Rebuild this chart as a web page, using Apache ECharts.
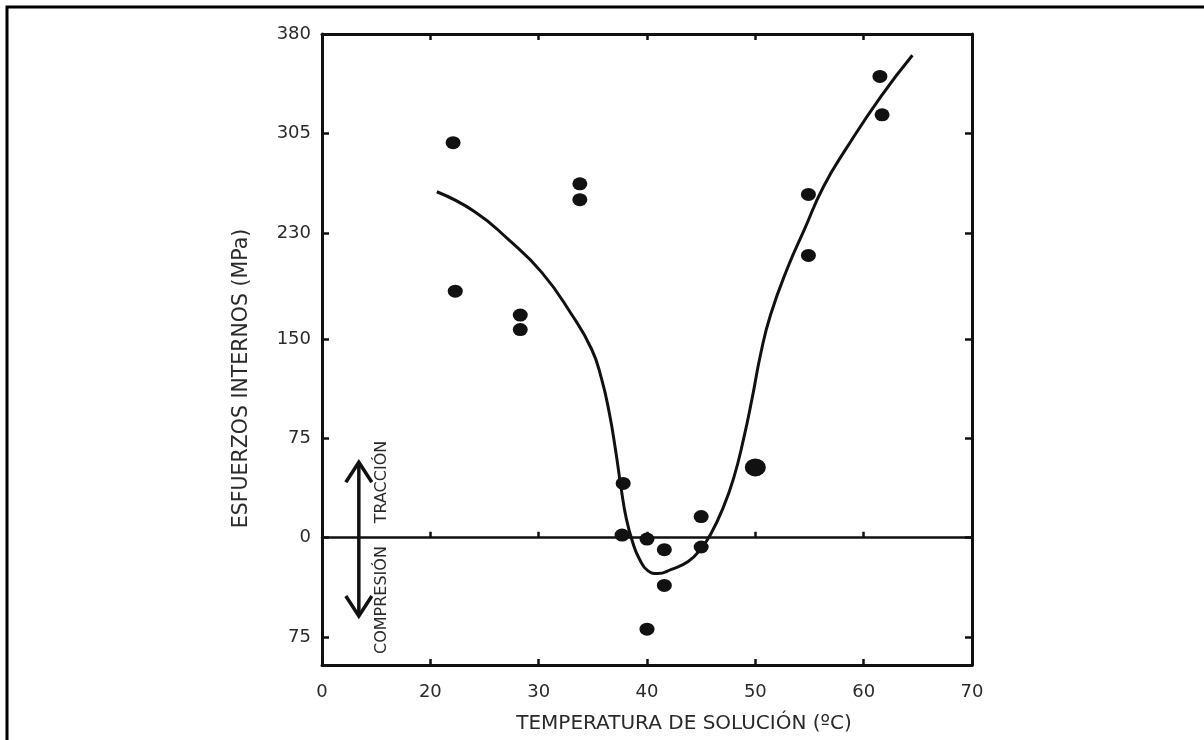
<!DOCTYPE html>
<html>
<head>
<meta charset="utf-8">
<script src="https://cdn.jsdelivr.net/npm/echarts@6/dist/echarts.min.js"></script>
<style>
  html, body { margin: 0; padding: 0; background: #fff; }
  #chart { width: 1204px; height: 740px; }
</style>
</head>
<body>
<div id="chart"></div>
<script>
// tick positions / labels (the axis starts at 10 but shows "0")
const xTicks = [10, 20, 30, 40, 50, 60, 70];
const xTickLabels = ['0', '20', '30', '40', '50', '60', '70'];
const yTicks = [-75, 0, 75, 150, 230, 305, 380];

// measured points (temperature, stress)
const dots = [
  [22.1, 298], [22.3, 186], [28.3, 168], [28.3, 157],
  [33.8, 267], [33.8, 255], [37.8, 41], [37.7, 2],
  [40.0, -1], [41.6, -9], [45.0, 16], [45.0, -7],
  [41.6, -36], [40.0, -69], [54.9, 259], [54.9, 213],
  [61.5, 348], [61.7, 319]
];
const bigDots = [[50.0, 53]];

// fitted curve
const curve = [
  [20.6, 261], [24.1, 246], [27.2, 225], [30.3, 200], [33.0, 169],
  [34.9, 142], [35.8, 120], [36.5, 95], [37.1, 66], [37.6, 38],
  [38.1, 14], [38.7, -4], [39.3, -16], [40.1, -25], [41.0, -27],
  [42.2, -24], [43.8, -18], [45.0, -8], [45.9, 3], [47.0, 22],
  [48.0, 45], [48.9, 74], [49.7, 105], [50.5, 139], [51.4, 168],
  [53.0, 204], [54.5, 232], [56.3, 265], [58.5, 295], [61.6, 333], [64.5, 364]
];

// arrow and side notes
const arrowX = 13.4;
const arrowTop = 57;
const arrowBottom = -59;
const noteX = 15.5;
const noteUp = ['TRACCIÓN', 42];
const noteDown = ['COMPRESIÓN', -47];

const ink = '#111';
const textColor = '#2a2a2a';
const font = 'DejaVu Sans, sans-serif';

let myChart = echarts.init(document.getElementById('chart'));

const boxAxis = {
  type: 'value',
  min: 10,
  max: 70,
  axisLine: { show: true, onZero: false, lineStyle: { color: ink, width: 3 } },
  axisTick: { show: true, inside: true, length: 6, customValues: xTicks, lineStyle: { color: ink, width: 2.5 } },
  splitLine: { show: false },
};

myChart.setOption({
  animation: false,
  backgroundColor: '#fff',
  grid: { left: 322, right: 232, top: 34, bottom: 75 },
  xAxis: [
    Object.assign({}, boxAxis, {
      position: 'bottom',
      name: 'TEMPERATURA DE SOLUCIÓN (ºC)',
      nameLocation: 'middle',
      nameGap: 49,
      nameTextStyle: { fontFamily: font, fontSize: 20, color: textColor, padding: [0, 0, 0, 74] },
      axisLabel: {
        customValues: xTicks,
        margin: 18,
        fontFamily: font,
        fontSize: 18,
        color: textColor,
        formatter: (v) => xTickLabels[xTicks.indexOf(v)],
      },
    }),
    Object.assign({}, boxAxis, { position: 'top', axisLabel: { show: false } }),
    // zero line across the plot
    Object.assign({}, boxAxis, {
      position: 'bottom',
      axisLine: { show: true, onZero: true, lineStyle: { color: ink, width: 2.5 } },
      axisLabel: { show: false },
    }),
  ],
  yAxis: [
    {
      type: 'value',
      min: -96,
      max: 380,
      position: 'left',
      name: 'ESFUERZOS INTERNOS (MPa)',
      nameLocation: 'middle',
      nameGap: 70,
      nameTextStyle: { fontFamily: font, fontSize: 20.5, color: textColor, padding: [0, 58, 0, 0] },
      axisLine: { show: true, onZero: false, lineStyle: { color: ink, width: 3 } },
      axisTick: { show: true, inside: true, length: 7, customValues: yTicks, lineStyle: { color: ink, width: 2.5 } },
      axisLabel: {
        customValues: yTicks,
        margin: 11,
        fontFamily: font,
        fontSize: 18,
        color: textColor,
        formatter: (v) => String(Math.abs(v)),
      },
      splitLine: { show: false },
    },
    {
      type: 'value',
      min: -96,
      max: 380,
      position: 'right',
      axisLine: { show: true, onZero: false, lineStyle: { color: ink, width: 3 } },
      axisTick: { show: true, inside: true, length: 7, customValues: yTicks, lineStyle: { color: ink, width: 2.5 } },
      axisLabel: { show: false },
      splitLine: { show: false },
    },
  ],
  series: [
    {
      type: 'line',
      data: curve,
      smooth: 0.5,
      showSymbol: false,
      lineStyle: { color: ink, width: 3 },
      z: 3,
    },
    {
      type: 'scatter',
      data: dots,
      symbolSize: [15, 13],
      itemStyle: { color: ink, opacity: 1 },
      z: 4,
    },
    {
      type: 'scatter',
      data: bigDots,
      symbolSize: [21, 18],
      itemStyle: { color: ink, opacity: 1 },
      z: 4,
    },
  ],
});

// outer frame (top/left edges only, the rest is cropped off) + arrow and notes
const arrowA = myChart.convertToPixel({ gridIndex: 0 }, [arrowX, arrowTop]);
const arrowB = myChart.convertToPixel({ gridIndex: 0 }, [arrowX, arrowBottom]);
const upPos = myChart.convertToPixel({ gridIndex: 0 }, [noteX, noteUp[1]]);
const downPos = myChart.convertToPixel({ gridIndex: 0 }, [noteX, noteDown[1]]);
const headW = 13;
const headH = 20;
const arrowStyle = { stroke: ink, lineWidth: 3.5, fill: null };

myChart.setOption({
  graphic: [
    {
      type: 'polyline',
      shape: { points: [[7, 740], [7, 7], [1204, 7]] },
      style: { stroke: '#000', lineWidth: 3, fill: null },
    },
    {
      type: 'line',
      shape: { x1: arrowA[0], y1: arrowA[1], x2: arrowB[0], y2: arrowB[1] },
      style: arrowStyle,
    },
    {
      type: 'polyline',
      shape: { points: [[arrowA[0] - headW, arrowA[1] + headH], [arrowA[0], arrowA[1]], [arrowA[0] + headW, arrowA[1] + headH]] },
      style: arrowStyle,
    },
    {
      type: 'polyline',
      shape: { points: [[arrowB[0] - headW, arrowB[1] - headH], [arrowB[0], arrowB[1]], [arrowB[0] + headW, arrowB[1] - headH]] },
      style: arrowStyle,
    },
    {
      type: 'text',
      x: upPos[0],
      y: upPos[1],
      rotation: Math.PI / 2,
      style: { text: noteUp[0], fontFamily: font, fontSize: 16, fill: textColor, align: 'center', verticalAlign: 'middle' },
    },
    {
      type: 'text',
      x: downPos[0],
      y: downPos[1],
      rotation: Math.PI / 2,
      style: { text: noteDown[0], fontFamily: font, fontSize: 16, fill: textColor, align: 'center', verticalAlign: 'middle' },
    },
  ],
});
</script>
</body>
</html>
